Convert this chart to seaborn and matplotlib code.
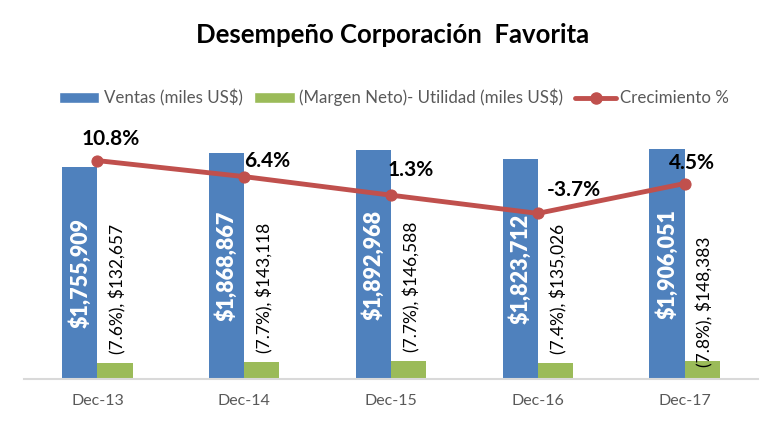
import numpy as np
import pandas as pd
import seaborn as sns
import matplotlib.pyplot as plt
from matplotlib.patches import Patch
from matplotlib.lines import Line2D

# data
periodos = ['Dec-13', 'Dec-14', 'Dec-15', 'Dec-16', 'Dec-17']
ventas = [1755909, 1868867, 1892968, 1823712, 1906051]
utilidad = [132657, 143118, 146588, 135026, 148383]
margen = [7.6, 7.7, 7.7, 7.4, 7.8]
crecimiento = [10.8, 6.4, 1.3, -3.7, 4.5]

AZUL = '#4F81BD'
VERDE = '#9BBB59'
ROJO = '#C0504D'
GRIS = '#595959'

sns.set_theme(style='white')
plt.rcParams['font.family'] = ['Lato', 'DejaVu Sans']

df = pd.DataFrame({
    'periodo': periodos * 2,
    'valor': ventas + utilidad,
    'serie': ['Ventas'] * 5 + ['Utilidad'] * 5,
})

fig = plt.figure(figsize=(7.8, 4.28), dpi=100)
ax = fig.add_axes([24 / 780, 49 / 428, 734 / 780, 269 / 428])

ancho = 0.48
sns.barplot(data=df, x='periodo', y='valor', hue='serie',
            palette=[AZUL, VERDE], width=ancho, gap=0, saturation=1,
            linewidth=0, legend=False, ax=ax)
ax.set_xlim(-0.5, 4.5)
ax.set_ylim(0, 2227000)
ax.set_xlabel('')
ax.set_ylabel('')
ax.set_yticks([])
for s in ['top', 'right', 'left']:
    ax.spines[s].set_visible(False)
ax.spines['bottom'].set_color('#D9D9D9')
ax.spines['bottom'].set_linewidth(1.5)
ax.tick_params(axis='x', length=0, labelsize=11.5, labelcolor=GRIS, pad=11)

# labels inside the sales bars
for i, v in enumerate(ventas):
    ax.text(i - ancho / 4, v / 2, f'${v:,.0f}',
            rotation=90, ha='center', va='center', color='white',
            fontsize=15.5, fontweight='heavy')

# labels above the profit bars
desp_verde = [9, 9, 9, 9, -6]
for i, (v, m, d) in enumerate(zip(utilidad, margen, desp_verde)):
    ax.annotate(f'({m}%), ${v:,.0f}', (i + ancho / 4, v),
                xytext=(3, d), textcoords='offset pixels',
                rotation=90, ha='center', va='bottom', color='black',
                fontsize=12.5)

# growth line on secondary axis
ax2 = ax.twinx()
sns.lineplot(x=periodos, y=crecimiento, ax=ax2, color=ROJO, lw=3.5,
             marker='o', markersize=8, markeredgecolor=ROJO)
ax2.set_ylim(-49.2, 24.7)
ax2.axis('off')

desp_pct = [(13, 22), (23, 16), (20, 25), (36, 23), (7, 21)]
for i, (c, d) in enumerate(zip(crecimiento, desp_pct)):
    ax2.annotate(f'{c}%', (i, c), xytext=d, textcoords='offset pixels',
                 ha='center', va='center', fontsize=15, fontweight='bold',
                 color='black')

fig.text(0.503, 0.918, 'Desempeño Corporación  Favorita', ha='center',
         va='center', fontsize=18.5, fontweight='bold', color='black')

handles = [
    Patch(facecolor=AZUL, label='Ventas (miles US$)'),
    Patch(facecolor=VERDE, label='(Margen Neto)- Utilidad (miles US$)'),
    Line2D([0], [0], color=ROJO, lw=3.5, marker='o', markersize=8,
           label='Crecimiento %'),
]
leg = fig.legend(handles=handles, loc='center', bbox_to_anchor=(0.505, 0.772),
                 ncol=3, frameon=False, fontsize=12.2, handlelength=2.4,
                 handleheight=0.6, handletextpad=0.25, columnspacing=0.7)
for t in leg.get_texts():
    t.set_color(GRIS)

fig.savefig('out.png', dpi=100)
